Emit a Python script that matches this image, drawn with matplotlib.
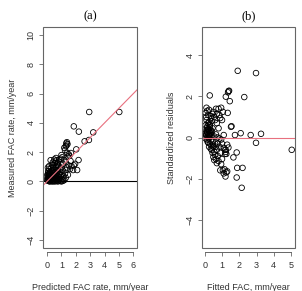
import matplotlib
matplotlib.use("Agg")
import matplotlib.pyplot as plt
from matplotlib.patches import Rectangle

plt.rcParams['font.family'] = ['Liberation Sans', 'DejaVu Sans']

# ---- Panel (a): measured vs predicted FAC rate ----
pred_a = [2.93, 5.02, 1.86, 2.21, 3.21, 2.91, 2.61, 2.03, 2.19, 2.09, 1.81, 1.86, 1.63, 1.70, 1.95,
          1.38, 1.34, 1.42, 1.30, 1.20, 1.35, 1.25, 1.40, 1.66, 1.51, 1.55, 1.45, 1.00, 1.05, 0.95, 0.85,
          1.20, 1.30, 1.10, 1.50, 1.40, 1.60, 1.35, 1.25, 1.45, 1.15, 1.30, 1.05, 1.20, 0.95,
          0.25, 0.40, 0.55, 0.65, 0.70, 0.80, 0.60, 0.45, 0.30, 0.15, 0.50, 0.75, 0.90, 0.35, 0.20, 0.55,
          0.70, 0.85, 0.10, 0.40, 0.25, 0.60, 0.80, 0.95, 0.05, 0.15, 0.35, 0.50, 0.70, 0.90, 0.00, 0.10,
          0.30, 0.45, 0.65, 0.80, 0.20, 0.40, 0.55, 0.75, 1.00, 0.05, 0.12, 0.18, 0.22, 0.08, 0.28, 0.33,
          0.38, 0.48, 0.52, 0.62, 0.68, 0.72, 0.78, 0.88, 0.92, 0.98, 1.02, 1.08, 1.12, 0.15, 0.02, 0.06,
          0.42, 0.58, 0.35, 0.50, 0.62, 0.72, 0.80, 0.30, 0.25, 0.18, 0.40, 0.12, 0.55, 0.45,
          0.05, 0.10, 0.15, 0.20, 0.25, 0.30, 0.35, 0.08, 0.14, 0.22, 0.28, 0.32, 0.42, 0.47, 0.57, 0.63]
meas_a = [4.74, 4.74, 3.76, 3.40, 3.35, 2.83, 2.74, 2.19, 1.46, 0.78, 0.78, 1.10, 1.40, 1.05, 1.20,
          2.68, 2.60, 2.55, 2.40, 2.30, 2.45, 2.15, 1.95, 1.94, 1.85, 1.75, 1.70, 1.80, 1.65, 1.55, 1.50,
          1.45, 1.30, 1.20, 1.10, 0.95, 0.85, 0.80, 0.55, 0.45, 0.35, 0.25, 0.15, 0.10, 0.05,
          1.45, 1.30, 1.25, 1.45, 1.15, 1.05, 1.00, 0.95, 0.90, 0.85, 0.80, 0.80, 0.85, 0.70, 0.65, 0.60,
          0.55, 0.50, 0.50, 0.45, 0.40, 0.40, 0.35, 0.40, 0.30, 0.25, 0.25, 0.20, 0.20, 0.15, 0.15, 0.10,
          0.10, 0.05, 0.05, 0.05, 0.00, 0.00, 0.00, 0.00, 0.00, 0.05, 0.20, 0.35, 0.55, 0.70, 0.15, 0.50,
          0.80, 0.35, 0.65, 0.25, 0.75, 0.35, 0.10, 0.25, 0.65, 0.95, 0.45, 0.75, 0.05, 1.05, 0.45, 0.95,
          1.10, 1.35, 1.15, 1.50, 1.60, 1.25, 1.35, 0.30, 0.20, 0.08, 0.18, 0.38, 0.45, 0.60,
          0.12, 0.22, 0.02, 0.28, 0.08, 0.18, 0.42, 0.58, 0.48, 0.12, 0.62, 0.02, 0.28, 0.12, 0.32, 0.15]

# ---- Panel (b): standardized residuals vs fitted ----
fit_b = [1.91, 2.97, 0.29, 2.29, 1.22, 1.38, 1.35, 1.41, 1.45, 1.33, 1.52, 1.55, 2.08, 1.75, 2.66,
         3.26, 2.97, 5.04, 1.10, 1.37, 1.85, 1.66, 1.20, 1.22, 1.18, 1.88, 2.19, 1.85, 2.14,
         0.10, 0.15, 0.25, 0.05, 0.20, 0.35, 0.45, 0.55, 0.65, 0.80, 0.70, 0.85, 0.90, 0.60, 0.40, 0.25,
         0.10, 0.05, 0.15, 0.30, 0.45, 0.20, 0.10, 0.05, 0.15, 0.25, 0.35, 0.20, 0.10, 0.30, 0.40, 0.25,
         0.15, 0.05, 0.35, 0.20, 0.45, 0.55, 0.65, 0.75, 0.85, 0.95, 0.60, 0.50, 0.40, 0.45, 0.55, 0.60,
         0.50, 0.65, 0.70, 0.75, 0.80, 0.85, 0.90, 0.95, 1.00, 1.05, 0.90, 1.10, 1.20, 1.15, 1.25, 1.30,
         1.00, 1.10, 1.20, 1.25, 1.30, 0.30, 0.35, 0.28, 0.22, 0.12, 0.18, 0.38, 0.08, 0.50, 0.70, 0.80,
         1.00, 1.05, 0.95, 0.75, 0.70, 0.55, 0.40, 0.30, 0.25, 0.35, 0.65,
         0.12, 0.18, 0.24, 0.32, 0.08, 0.16, 0.22, 0.28, 0.42, 0.48]
resid_b = [3.25, 3.14, 2.05, 1.97, 1.99, 2.26, 2.20, 2.28, 1.77, 1.20, 0.52, 0.55, 0.21, 0.12, 0.12,
           0.18, -0.26, -0.60, 0.12, -0.49, -0.73, -0.97, -0.60, -0.70, -0.80, -1.48, -1.48, -1.95, -2.45,
           1.45, 1.30, 1.35, 1.20, 1.10, 1.05, 1.15, 1.00, 1.40, 1.40, 1.15, 1.10, 0.95, 0.85, 0.80, 0.75,
           0.85, 0.60, 0.55, 0.50, 0.45, 0.40, 0.35, 0.20, 0.25, 0.30, 0.20, 0.15, 0.10, 0.05, 0.10, -0.05,
           -0.10, -0.05, -0.15, -0.25, -0.20, 0.05, 0.15, 0.00, -0.05, -0.10, -0.30, -0.45, -0.60, -0.75, -0.70, -0.85,
           -0.95, -1.05, -0.60, -0.90, -1.15, -0.45, -0.75, -1.30, -1.05, -1.60, -1.60, -1.75, -1.90, -1.55, -1.70, -1.65,
           -0.30, -0.50, -0.60, -0.80, -0.35, 0.60, 0.35, 0.15, 0.02, 0.45, 0.70, 0.95, 1.00, 1.25, 0.70, 0.45,
           0.85, 1.25, 1.45, -0.30, -1.25, -1.10, -0.40, -0.30, -0.45, -0.55, -0.45,
           0.25, 0.40, 0.10, 0.30, 0.15, -0.20, 0.35, 0.65, 0.30, -0.35]

a_xticks = [0, 1, 2, 3, 4, 5, 6]
a_yticks = [-4, -2, 0, 2, 4, 6, 8, 10]
b_xticks = [0, 1, 2, 3, 4, 5]
b_yticks = [-4, -2, 0, 2, 4]

W, H = 302, 291
fig = plt.figure(figsize=(W / 100, H / 100), dpi=100)

FS = 6.5
TXT = '#333333'
BOX = '#666666'
RED = '#e8707f'


def style(ax, xticks, yticks):
    for s in ax.spines.values():
        s.set_visible(False)
    ax.spines['bottom'].set_visible(True)
    ax.spines['bottom'].set_position(('outward', 2.5))
    ax.spines['bottom'].set_bounds(xticks[0], xticks[-1])
    ax.spines['bottom'].set_color(BOX)
    ax.spines['bottom'].set_linewidth(0.7)
    ax.add_patch(Rectangle((0, 0), 1, 1, transform=ax.transAxes, fill=False,
                           edgecolor=BOX, linewidth=0.8, clip_on=False, zorder=5))
    ax.set_xticks(xticks)
    ax.set_yticks(yticks)
    ax.tick_params(axis='both', direction='out', length=3, width=0.6, color=BOX,
                   labelsize=FS, labelcolor=TXT)
    ax.tick_params(axis='x', pad=4)
    ax.tick_params(axis='y', pad=2.5)
    for lab in ax.get_yticklabels():
        lab.set_rotation(90)
        lab.set_va('center')


# Panel (a)
ax1 = fig.add_axes([43 / W, 42.7 / H, 94 / W, 221.6 / H])
ax1.scatter(pred_a, meas_a, s=16, facecolors='none', edgecolors='black', linewidths=0.6, zorder=3)
ax1.set_xlim(-0.28, 6.25)
ax1.set_ylim(-4.56, 10.56)
ax1.axhline(0, color='black', linewidth=0.8, zorder=2)
ax1.plot([-0.28, 6.25], [-0.28, 6.25], color=RED, linewidth=0.8, zorder=4)
style(ax1, a_xticks, a_yticks)
ax1.set_xlabel('Predicted FAC rate, mm/year', fontsize=FS, color=TXT, labelpad=9)
ax1.set_ylabel('Measured FAC rate, mm/year', fontsize=FS, color=TXT, labelpad=7)
ax1.set_title('(a)', fontsize=9, family='Liberation Serif', pad=5)

# Panel (b)
ax2 = fig.add_axes([202 / W, 42.7 / H, 93 / W, 221.6 / H])
ax2.scatter(fit_b, resid_b, s=16, facecolors='none', edgecolors='black', linewidths=0.6, zorder=3)
ax2.set_xlim(-0.16, 5.23)
ax2.set_ylim(-5.4, 5.4)
ax2.axhline(0, color=RED, linewidth=0.8, zorder=4)
style(ax2, b_xticks, b_yticks)
ax2.set_xlabel('Fitted FAC, mm/year', fontsize=FS, color=TXT, labelpad=9)
ax2.set_ylabel('Standardized residuals', fontsize=FS, color=TXT, labelpad=7)
ax2.set_title('(b)', fontsize=9, family='Liberation Serif', pad=5)

fig.savefig('out.png', dpi=100)
